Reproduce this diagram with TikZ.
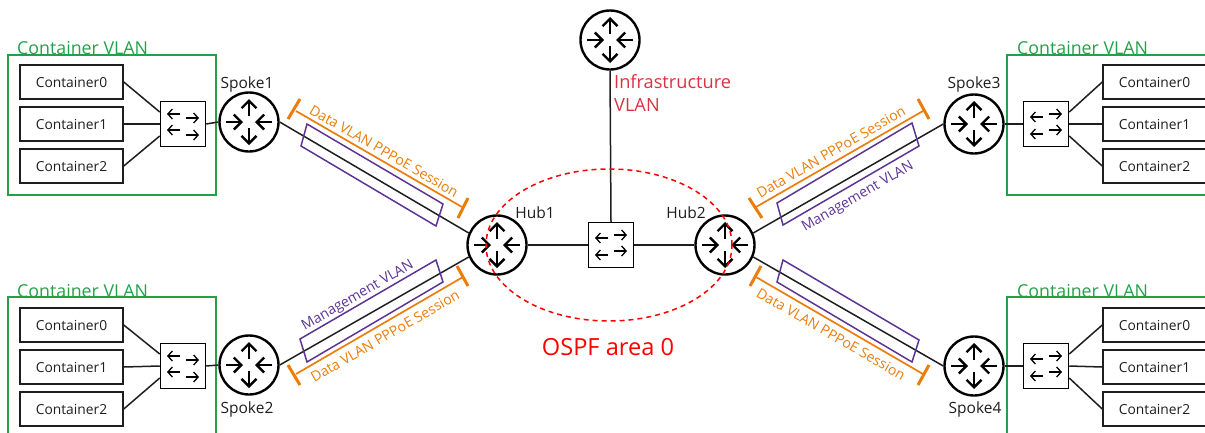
\documentclass[tikz,border=0pt]{standalone}
\usepackage{fontspec}
\setmainfont{Open Sans}
\usetikzlibrary{arrows.meta,calc,shapes.geometric}
\definecolor{ink}{RGB}{30,30,30}
\definecolor{grn}{RGB}{36,161,72}
\definecolor{org}{RGB}{235,125,10}
\definecolor{pur}{RGB}{92,52,148}
\definecolor{infra}{RGB}{218,50,65}
\tikzset{
 x=1pt,y=-1pt,
 routerbox/.style={circle,draw=black,line width=2.4pt,minimum size=59pt,inner sep=0pt,fill=white},
 switchbox/.style={rectangle,draw=black,line width=1.5pt,minimum size=45pt,inner sep=0pt,fill=white},
 contbox/.style={rectangle,draw=ink,line width=1.5pt,minimum width=103pt,minimum height=34pt,inner sep=0pt,font=\fontsize{13.8}{15}\selectfont,text=ink},
 vlanbox/.style={draw=grn,line width=1.4pt},
 vlantext/.style={text=grn,font=\fontsize{17.8}{20}\selectfont,anchor=west,inner sep=0pt},
 link/.style={draw=ink,line width=1.5pt},
 rarrow/.style={-{Straight Barb[length=7.5pt,width=15pt,line width=2.4pt]},line width=2.8pt,black},
 sarrow/.style={-{Straight Barb[length=4.5pt,width=10pt,line width=1.3pt]},line width=1.4pt,black},
 purbox/.style={draw=pur,line width=1.5pt},
 orgline/.style={draw=org,line width=1.7pt},
 orgtick/.style={draw=org,line width=3pt},
 orgtext/.style={text=org,font=\fontsize{14.1}{16}\selectfont,inner sep=0pt},
 purtext/.style={text=pur,font=\fontsize{14.1}{16}\selectfont,inner sep=0pt},
 namelabel/.style={text=ink,font=\fontsize{15.5}{17}\selectfont,inner sep=0pt},
}
\newcommand{\routerat}[3]{%
 \node[routerbox] (#1) at (#2,#3) {};
 \begin{scope}[shift={(#2,#3)}]
  \draw[rarrow] (0,-6) -- (0,-23);
  \draw[rarrow] (0,6) -- (0,23);
  \draw[rarrow] (-23,0) -- (-6,0);
  \draw[rarrow] (23,0) -- (6,0);
 \end{scope}}
% name, x, y, left arrow y1,y2, right arrow y1,y2
\newcommand{\switchat}[7]{%
 \node[switchbox] (#1) at (#2,#3) {};
 \begin{scope}[shift={(#2,#3)}]
  \draw[sarrow] (-3,#4) -- (-16,#4);
  \draw[sarrow] (-3,#5) -- (-16,#5);
  \draw[sarrow] (3,#6) -- (16,#6);
  \draw[sarrow] (3,#7) -- (16,#7);
 \end{scope}}
\newcommand{\containers}[3]{% prefix, center x, top row center y
 \node[contbox] (#10) at (#2,#3) {Container0};
 \node[contbox] (#11) at (#2,#3+42) {Container1};
 \node[contbox] (#12) at (#2,#3+84) {Container2};}
\begin{document}
\begin{tikzpicture}
\clip (0,0) rectangle (1205,432);
% green areas
\draw[vlanbox] (8,55) rectangle (216,195);
\draw[vlanbox] (8,297) rectangle (216,440);
\draw[vlanbox] (1007,55) rectangle (1215,195);
\draw[vlanbox] (1007,297) rectangle (1215,440);
\node[vlantext] (vt1) at (17,48) {Container VLAN};
\node[vlantext] (vt2) at (17,291) {Container VLAN};
\node[vlantext] (vt3) at (1017,48) {Container VLAN};
\node[vlantext] (vt4) at (1017,291) {Container VLAN};
% routers and switches
\routerat{sa}{249}{122}
\routerat{sb}{249}{365}
\routerat{sc}{974}{124}
\routerat{sd}{974}{366}
\routerat{ha}{497}{245}
\routerat{hb}{725}{245}
\routerat{inf}{610}{40}
\switchat{swa}{183}{124}{-10}{6}{-6}{11}
\switchat{swb}{183}{366}{-10}{6}{-6}{11}
\switchat{swc}{1046}{124}{-7}{10}{-10}{6}
\switchat{swd}{1046}{366}{-7}{10}{-10}{6}
\switchat{swm}{611}{245}{-7}{10}{-10}{6}
% containers
\containers{a}{71.5}{82}
\containers{b}{71.5}{325}
\containers{c}{1154.5}{82}
\containers{d}{1154.5}{325}
% links
\foreach \p/\s in {a/swa,b/swb}{
 \draw[link] (\p0.east) -- ($(\s.west)+(0,-12)$);
 \draw[link] (\p1.east) -- (\s.west);
 \draw[link] (\p2.east) -- ($(\s.west)+(0,12)$);
}
\foreach \p/\s in {c/swc,d/swd}{
 \draw[link] (\p0.west) -- ($(\s.east)+(0,-12)$);
 \draw[link] (\p1.west) -- (\s.east);
 \draw[link] (\p2.west) -- ($(\s.east)+(0,12)$);
}
\draw[link] (swa.east) -- (sa.west);
\draw[link] (swb.east) -- (sb.west);
\draw[link] (swc.west) -- (sc.east);
\draw[link] (swd.west) -- (sd.east);
\draw[link] (sa.east) -- (ha.157);
\draw[link] (sb.east) -- (ha.203);
\draw[link] (sc.west) -- (hb.23);
\draw[link] (sd.west) -- (hb.337);
\draw[link] (ha.east) -- (swm.west);
\draw[link] (hb.west) -- (swm.east);
\draw[link] (inf.south) -- (swm.north);
% purple boxes
\draw[purbox] (307,124) -- (443,204) -- (436,226) -- (301,146) -- cycle;
\draw[purbox] (300,339) -- (436,260) -- (443,282) -- (307,362) -- cycle;
\draw[purbox] (777,203) -- (912,123) -- (919,146) -- (783,225) -- cycle;
\draw[purbox] (783,260) -- (919,340) -- (912,362) -- (777,282) -- cycle;
% orange brackets
\draw[orgline] (296,111) -- (462,207);
\draw[orgtick] (300,99) -- (288,119);
\draw[orgtick] (468,198) -- (458,218);
\draw[orgline] (296,374) -- (463,277);
\draw[orgtick] (288,365) -- (300,385);
\draw[orgtick] (457,266) -- (468,286);
\draw[orgline] (756,207) -- (923,111);
\draw[orgtick] (749,198) -- (762,218);
\draw[orgtick] (918,99) -- (929,119);
\draw[orgline] (756,277) -- (923,374);
\draw[orgtick] (761,266) -- (750,286);
\draw[orgtick] (929,365) -- (918,385);
% rotated labels
\node[orgtext,rotate=-30] (la) at (384,151) {Data VLAN PPPoE Session};
\node[orgtext,rotate=30] (lb) at (385,336) {Data VLAN PPPoE Session};
\node[orgtext,rotate=30] (lc) at (831,152) {Data VLAN PPPoE Session};
\node[orgtext,rotate=-30] (ld) at (831,334) {Data VLAN PPPoE Session};
\node[purtext,rotate=30] (me) at (358,296) {Management VLAN};
\node[purtext,rotate=30] (mf) at (858,197) {Management VLAN};
% names
\node[namelabel] (n1) at (247,84.5) {Spoke1};
\node[namelabel] (n2) at (247,409.5) {Spoke2};
\node[namelabel] (n3) at (974,84.5) {Spoke3};
\node[namelabel] (n4) at (975,409.5) {Spoke4};
\node[namelabel] (n5) at (535,212.5) {Hub1};
\node[namelabel] (n6) at (686,212.5) {Hub2};
\node[text=infra,font=\fontsize{18.2}{23.5}\selectfont,align=left,anchor=north west,inner sep=0pt] (iv) at (614,74) {Infrastructure\\VLAN};
% OSPF area
\node[draw=red,dash pattern=on 5pt off 4pt,line width=1.5pt,ellipse,minimum width=246pt,minimum height=152pt,inner sep=0pt] (area) at (609,245) {};
\node[text=red,font=\fontsize{23.6}{26}\selectfont,inner sep=0pt] (ospf) at (608,347) {OSPF area 0};
\end{tikzpicture}
\end{document}
